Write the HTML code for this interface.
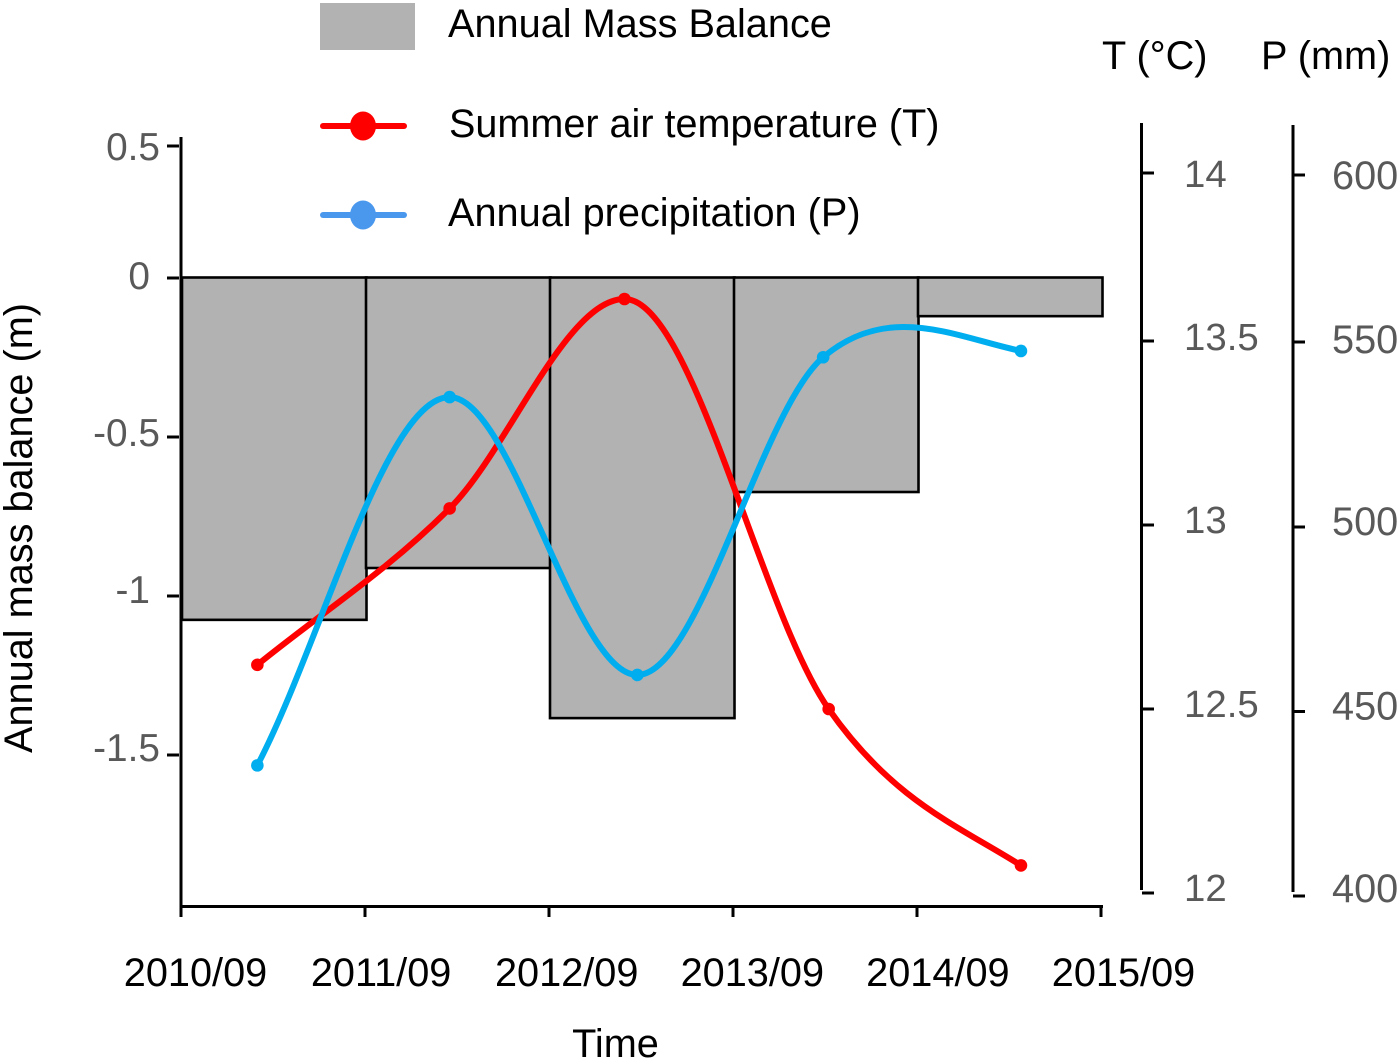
<!DOCTYPE html>
<html lang="en">
<head>
<meta charset="utf-8">
<title>Annual mass balance, temperature and precipitation</title>
<style>
html,body{margin:0;padding:0;background:#fff;}
svg{display:block;font-family:"Liberation Sans",Arial,sans-serif;}
</style>
</head>
<body>
<svg id="chart" width="1400" height="1061" viewBox="0 0 1400 1061" xmlns="http://www.w3.org/2000/svg">
  <rect x="0" y="0" width="1400" height="1061" fill="#ffffff"/>
  <g id="bars"></g>
  <g id="axes"></g>
  <g id="series"></g>

  <g>
    <rect x="320" y="3" width="95" height="47" fill="#b2b2b2"/>
    <text x="448" y="37" font-size="39.7" fill="#000">Annual Mass Balance</text>
    <line x1="323" y1="126" x2="404" y2="126" stroke="#ff0000" stroke-width="6" stroke-linecap="round"/>
    <ellipse cx="363" cy="126" rx="13" ry="14.5" fill="#ff0000"/>
    <text x="449" y="137" font-size="39.6" fill="#000">Summer air temperature (T)</text>
    <line x1="323" y1="215" x2="404" y2="215" stroke="#4a98ee" stroke-width="6" stroke-linecap="round"/>
    <ellipse cx="363" cy="215" rx="13" ry="14.5" fill="#4a98ee"/>
    <text x="448" y="226" font-size="39.7" fill="#000">Annual precipitation (P)</text>
  </g>

  <text transform="translate(32,528) rotate(-90)" text-anchor="middle" font-size="39.7" fill="#000">Annual mass balance (m)</text>
  <text x="615.5" y="1057" text-anchor="middle" font-size="39.7" fill="#000">Time</text>
  <text x="1102" y="69" font-size="39.7" fill="#000">T (°C)</text>
  <text x="1261" y="69" font-size="39.7" fill="#000">P (mm)</text>
</svg>

<script>
// ---- data ----
const yearLabels = ['2010/09', '2011/09', '2012/09', '2013/09', '2014/09', '2015/09'];
const balanceYears = [0, 1, 2, 3, 4];
const balanceValues = [-1.075, -0.912, -1.384, -0.673, -0.12];
const tempTimes = [0.415, 1.46, 2.41, 3.52, 4.565];
const tempValues = [12.62, 13.045, 13.625, 12.5, 12.075];
const precipTimes = [0.415, 1.46, 2.48, 3.49, 4.565];
const precipValues = [435.4, 535.2, 459.9, 546, 547.7];
const balanceTicks = [0.5, 0, -0.5, -1, -1.5];
const balanceTickLabels = ['0.5', '0', '-0.5', '-1', '-1.5'];
const tempTicks = [14, 13.5, 13, 12.5, 12];
const tempTickLabels = ['14', '13.5', '13', '12.5', '12'];
const precipTicks = [600, 550, 500, 450, 400];
const precipTickLabels = ['600', '550', '500', '450', '400'];

// ---- axis functions ----
function xScale(t) { return 181 + 184 * t; }
function yBalance(v) { return v >= 0 ? 278 - 264 * v : 278 - 318 * v; }
function yTemp(v) { return v >= 13.5 ? 341 - 336 * (v - 13.5) : 893 - 368 * (v - 12); }
function yPrecip(v) { return v >= 550 ? 342 - 3.34 * (v - 550) : 896 - 3.69 * (v - 400); }

const NS = 'http://www.w3.org/2000/svg';
const FONT_SIZE = 39.7;
function mk(tag, parent, attrs) {
  const el = document.createElementNS(NS, tag);
  for (const k in attrs) el.setAttribute(k, attrs[k]);
  parent.appendChild(el);
  return el;
}

// ---- bars ----
const barsG = document.getElementById('bars');
balanceValues.forEach(function (v, i) {
  const x0 = xScale(balanceYears[i]);
  const x1 = xScale(balanceYears[i] + 1);
  const y0 = yBalance(0);
  const y1 = yBalance(v);
  const bar = mk('rect', barsG, { x: x0 + 1, y: y0 - 0.5, width: x1 - x0 + 0.5, height: y1 - y0 + 0.5, fill: '#b2b2b2', stroke: '#000', 'stroke-width': 2.6 });
  
  
});

// ---- axes ----
const axesG = document.getElementById('axes');
function line(name, x1, y1, x2, y2, w) {
  const el = mk('line', axesG, { x1: x1, y1: y1, x2: x2, y2: y2, stroke: '#000', 'stroke-width': w });
  
  
  return el;
}
function label(name, x, y, str, anchor, fill, size) {
  const el = mk('text', axesG, { x: x, y: y, 'text-anchor': anchor, 'font-size': size, fill: fill });
  el.textContent = str;
  
  
  return el;
}

const GREY = '#595959';
line('left-axis-line', 181, 137, 181, 908, 3);
line('bottom-axis-line', 180, 906.5, 1103, 906.5, 3);
line('temperature-axis-line', 1141.5, 123, 1141.5, 890, 3);
line('precipitation-axis-line', 1293, 125, 1293, 892, 3);

yearLabels.forEach(function (lab, i) {
  line('x-tick-' + lab.replace('/', '-'), xScale(i), 906, xScale(i), 917, 3);
  label('x-tick-label-' + lab.replace('/', '-'), 195.5 + 185.6 * i, 986, lab, 'middle', '#000', FONT_SIZE);
});

const balanceLabelRight = [160, 150, 160, 150, 160];
const balanceLabelDy = [14, 11, 9, 7, 6];
balanceTicks.forEach(function (v, i) {
  const y = yBalance(v);
  line('y-tick-' + balanceTickLabels[i], 167, y, 179, y, 3);
  label('y-tick-label-' + balanceTickLabels[i], balanceLabelRight[i], y + balanceLabelDy[i], balanceTickLabels[i], 'end', GREY, 38.8);
});

const tempLabelDy = [14, 9, 8, 8, 8];
tempTicks.forEach(function (v, i) {
  const y = yTemp(v);
  line('temperature-tick-' + tempTickLabels[i], 1142, y, 1154, y, 3);
  label('temperature-tick-label-' + tempTickLabels[i], 1184, y + tempLabelDy[i], tempTickLabels[i], 'start', GREY, 38.4);
});

const precipLabelDy = [14, 11, 8, 8, 6];
precipTicks.forEach(function (v, i) {
  const y = yPrecip(v);
  line('precipitation-tick-' + precipTickLabels[i], 1293, y, 1305, y, 3);
  label('precipitation-tick-label-' + precipTickLabels[i], 1332, y + precipLabelDy[i], precipTickLabels[i], 'start', GREY, FONT_SIZE);
});

// ---- smooth curve through the data points (cubic Hermite) ----
function curvePath(xs, ys) {
  const n = xs.length;
  const s = [];
  for (let i = 0; i < n - 1; i++) s.push((ys[i + 1] - ys[i]) / (xs[i + 1] - xs[i]));
  const m = new Array(n).fill(0);
  for (let i = 1; i < n - 1; i++) {
    // flat at local extremes, centred slope elsewhere
    m[i] = s[i - 1] * s[i] <= 0 ? 0 : (ys[i + 1] - ys[i - 1]) / (xs[i + 1] - xs[i - 1]);
  }
  m[0] = s[0];
  m[n - 1] = s[n - 2] + (s[n - 2] - m[n - 2]) * 0.3;
  let path = 'M' + xs[0].toFixed(2) + ' ' + ys[0].toFixed(2);
  for (let i = 0; i < n - 1; i++) {
    const t = (xs[i + 1] - xs[i]) / 3;
    path += ' C' + (xs[i] + t).toFixed(2) + ' ' + (ys[i] + m[i] * t).toFixed(2) +
            ' ' + (xs[i + 1] - t).toFixed(2) + ' ' + (ys[i + 1] - m[i + 1] * t).toFixed(2) +
            ' ' + xs[i + 1].toFixed(2) + ' ' + ys[i + 1].toFixed(2);
  }
  return path;
}

// ---- series ----
const seriesG = document.getElementById('series');
function drawSeries(name, times, values, yFn, color) {
  const xs = times.map(xScale);
  const ys = values.map(yFn);
  const p = mk('path', seriesG, { d: curvePath(xs, ys), fill: 'none', stroke: color, 'stroke-width': 6, 'stroke-linecap': 'round', 'stroke-linejoin': 'round' });
  
  
  xs.forEach(function (x, i) {
    const c = mk('circle', seriesG, { cx: x, cy: ys[i], r: 6.3, fill: color });
    
    
  });
}
drawSeries('temperature', tempTimes, tempValues, yTemp, '#ff0000');
drawSeries('precipitation', precipTimes, precipValues, yPrecip, '#00aeef');
</script>
</body>
</html>
